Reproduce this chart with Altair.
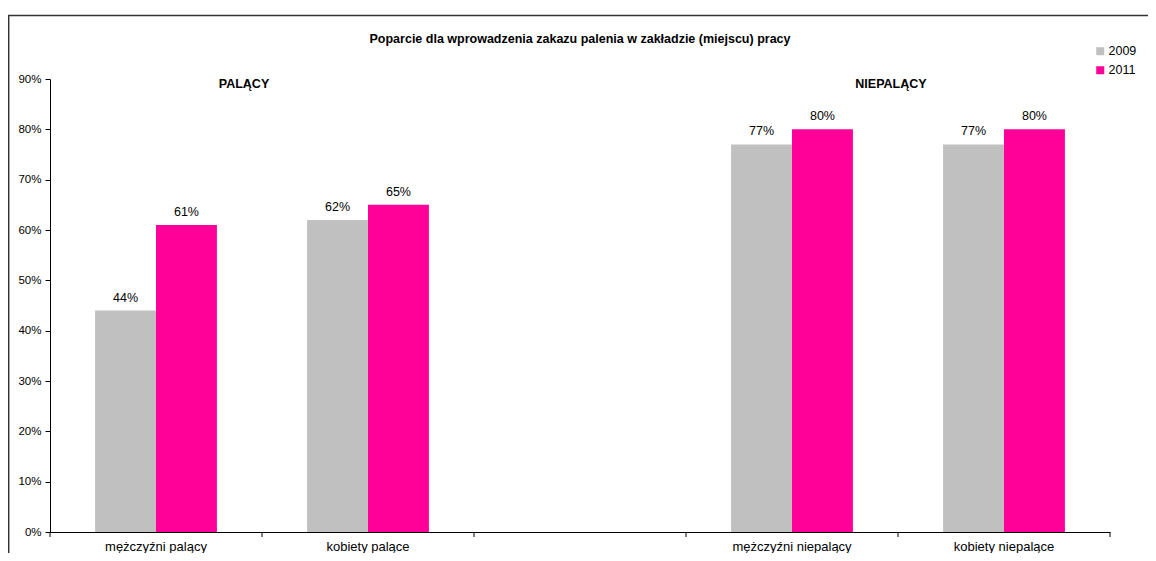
import altair as alt
import pandas as pd

categories = ["mężczyźni palący", "kobiety palące", " ", "mężczyźni niepalący", "kobiety niepalące"]
years = ["2009", "2011"]
values_2009 = [0.44, 0.62, None, 0.77, 0.77]
values_2011 = [0.61, 0.65, None, 0.80, 0.80]
colors = ["#C0C0C0", "#FF0099"]
y_ticks = [0.0, 0.1, 0.2, 0.3, 0.4, 0.5, 0.6, 0.7, 0.8, 0.9]
title_text = "Poparcie dla wprowadzenia zakazu palenia w zakładzie (miejscu) pracy"
group_labels = ["PALĄCY", "NIEPALĄCY"]
group_anchor = ["mężczyźni palący", "mężczyźni niepalący"]
group_dx = [-18, -7]

FONT = "Liberation Sans"

rows = []
for c, v in zip(categories, values_2009):
    if v is not None:
        rows.append({"cat": c, "year": "2009", "value": v})
for c, v in zip(categories, values_2011):
    if v is not None:
        rows.append({"cat": c, "year": "2011", "value": v})
df = pd.DataFrame(rows)

W, H = 1060, 453

xscale = alt.Scale(domain=categories, paddingInner=0, paddingOuter=0)
x_enc = alt.X("cat:N", scale=xscale, sort=categories,
              axis=alt.Axis(title=None, labelAngle=0, ticks=False, labelPadding=8,
                            labelFontSize=13, labelFont=FONT, labelColor="#000000",
                            domainColor="#000000", domainWidth=1))
xoff = alt.XOffset("year:N", scale=alt.Scale(domain=years, paddingInner=0, paddingOuter=0.74))
y_enc = alt.Y("value:Q", scale=alt.Scale(domain=[0, 0.9], nice=False),
              axis=alt.Axis(title=None, values=y_ticks, format=".0%", grid=False,
                            tickSize=5, labelPadding=4, labelFontSize=11.5, labelFont=FONT,
                            labelColor="#000000", tickColor="#000000", domainColor="#000000"))

bars = alt.Chart(df).mark_bar().encode(
    x=x_enc,
    xOffset=xoff,
    y=y_enc,
    color=alt.Color("year:N", scale=alt.Scale(domain=years, range=colors),
                    legend=alt.Legend(title=None, orient="none", legendX=1044, legendY=-34,
                                      symbolType="square", symbolSize=64, symbolStrokeWidth=0,
                                      labelFontSize=12.5, labelFont=FONT, labelColor="#000000",
                                      rowPadding=6, padding=0, symbolOffset=0, labelOffset=2)),
)

labels = alt.Chart(df).mark_text(baseline="alphabetic", dy=-9, fontSize=12.5, font=FONT,
                                 color="#000000").encode(
    x=alt.X("cat:N", scale=xscale, sort=categories),
    xOffset=xoff,
    y=alt.Y("value:Q"),
    text=alt.Text("value:Q", format=".0%"),
)

tick_df = pd.DataFrame({"cat": categories})
ticks_right = alt.Chart(tick_df).mark_rule(color="#000000", strokeWidth=1).encode(
    x=alt.X("cat:N", scale=xscale, sort=categories, bandPosition=1),
    y=alt.value(H), y2=alt.value(H + 5),
)
ticks_left = alt.Chart(tick_df.iloc[:1]).mark_rule(color="#000000", strokeWidth=1).encode(
    x=alt.X("cat:N", scale=xscale, sort=categories, bandPosition=0),
    y=alt.value(H), y2=alt.value(H + 5),
)

grp_df = pd.DataFrame({"cat": group_anchor, "label": group_labels})
grp1 = alt.Chart(grp_df.iloc[:1]).mark_text(fontWeight="bold", fontSize=12.5, font=FONT,
                                            color="#000000", baseline="middle", dx=group_dx[0]).encode(
    x=alt.X("cat:N", scale=xscale, sort=categories, bandPosition=1),
    y=alt.value(5), text="label:N")
grp2 = alt.Chart(grp_df.iloc[1:]).mark_text(fontWeight="bold", fontSize=12.5, font=FONT,
                                            color="#000000", baseline="middle", dx=group_dx[1]).encode(
    x=alt.X("cat:N", scale=xscale, sort=categories, bandPosition=1),
    y=alt.value(5), text="label:N")

one = pd.DataFrame({"t": [title_text]})
title = alt.Chart(one).mark_text(fontWeight="bold", fontSize=12.5, font=FONT, color="#000000",
                                 baseline="middle").encode(
    x=alt.value(W / 2), y=alt.value(-40), text="t:N")

frame_top = alt.Chart(one).mark_rule(color="#333333", strokeWidth=1.5).encode(
    x=alt.value(-42), x2=alt.value(1100), y=alt.value(-63.5))
frame_left = alt.Chart(one).mark_rule(color="#333333", strokeWidth=1.5).encode(
    x=alt.value(-41.3), y=alt.value(-63.5), y2=alt.value(480))

chart = alt.layer(bars, labels, ticks_right, ticks_left, grp1, grp2, title, frame_top, frame_left).properties(
    width=W, height=H,
    autosize=alt.AutoSizeParams(type="none"),
    padding={"left": 42, "top": 71, "right": 38, "bottom": 21},
).configure(background="white").configure_view(stroke=None, strokeWidth=0)

chart.save("out.html", embed_options={"renderer": "svg", "actions": False})
